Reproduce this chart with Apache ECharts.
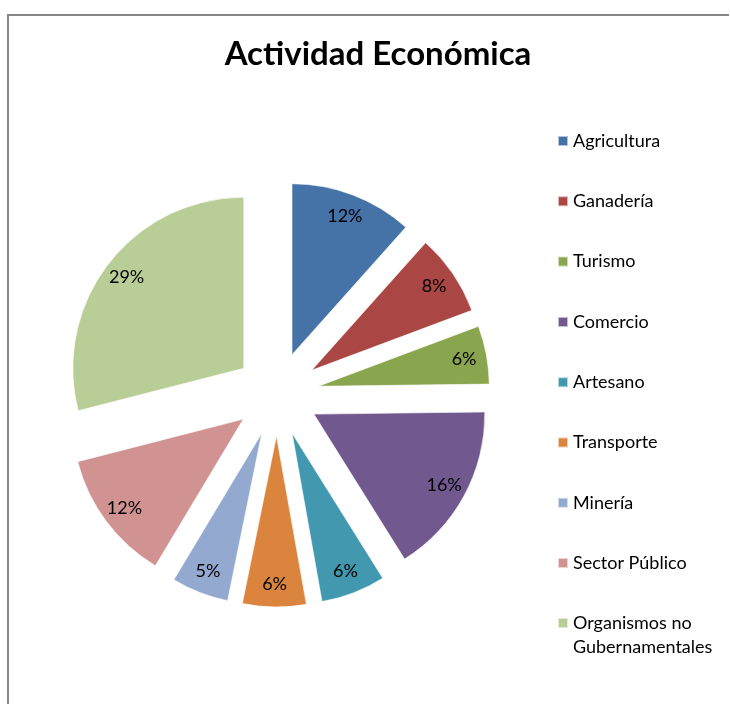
<!DOCTYPE html>
<html>
<head>
<meta charset="utf-8">
<script src="https://cdn.jsdelivr.net/npm/echarts@6/dist/echarts.min.js"></script>
<style>
  html, body { margin: 0; padding: 0; background: #fff; }
  #chart { width: 730px; height: 704px; }
</style>
</head>
<body>
<div id="chart"></div>
<script>
const categorias = ['Agricultura', 'Ganadería', 'Turismo', 'Comercio', 'Artesano',
  'Transporte', 'Minería', 'Sector Público', 'Organismos no Gubernamentales'];
const valores = [11.6, 7.7, 5.5, 16.3, 6.1, 6.0, 5.4, 12.4, 29.0];
const colores = ['#4572A7', '#AA4643', '#89A54E', '#71588F', '#4198AF',
  '#DB843D', '#93A9CF', '#D19392', '#B9CD96'];

const centro = [277, 394];
const radio = 171;
const separacion = 42;
const fuente = 'Lato, "Open Sans", sans-serif';

const chart = echarts.init(document.getElementById('chart'));

const datos = categorias.map((name, i) => ({
  name: name,
  value: valores[i],
  selected: true,
  itemStyle: { color: colores[i] }
}));

const option = {
  animation: false,
  title: {
    text: 'Actividad Económica',
    left: 373,
    textAlign: 'center',
    top: 33,
    textStyle: { fontFamily: fuente, fontSize: 33, fontWeight: 'bold', color: '#000' }
  },
  legend: [
    {
      orient: 'vertical',
      left: 557,
      top: 129,
      padding: 0,
      itemWidth: 10,
      itemHeight: 10,
      itemGap: 36.3,
      icon: 'rect',
      selectedMode: false,
      data: categorias.slice(0, 8),
      textStyle: { fontFamily: fuente, fontSize: 18, lineHeight: 24, color: '#000' }
    },
    {
      // la última entrada ocupa dos líneas; el icono va junto a la primera
      orient: 'vertical',
      left: 557,
      top: 587,
      padding: 0,
      itemWidth: 10,
      itemHeight: 10,
      icon: 'rect',
      selectedMode: false,
      data: categorias.slice(8),
      formatter: () => '\nOrganismos no\nGubernamentales',
      textStyle: { fontFamily: fuente, fontSize: 18, lineHeight: 24, color: '#000' }
    }
  ],
  graphic: [
    {
      type: 'polyline',
      shape: { points: [[8, 710], [8, 15], [729, 15]] },
      style: { stroke: '#878787', lineWidth: 2, fill: null }
    }
  ],
  series: [
    {
      name: 'Actividad',
      type: 'pie',
      center: centro,
      radius: [0, radio],
      startAngle: 90,
      clockwise: true,
      selectedMode: 'multiple',
      selectedOffset: separacion,
      avoidLabelOverlap: false,
      label: { show: false },
      labelLine: { show: false },
      emphasis: { disabled: true },
      select: { itemStyle: { borderColor: 'rgba(255,255,255,0.6)', borderWidth: 1 } },
      itemStyle: { borderColor: 'rgba(255,255,255,0.6)', borderWidth: 1 },
      data: datos
    },
    {
      // solo etiquetas, colocadas a 0.85 del radio
      name: 'Etiquetas',
      type: 'pie',
      center: centro,
      radius: [radio * 0.7, radio],
      startAngle: 90,
      clockwise: true,
      selectedMode: 'multiple',
      selectedOffset: separacion,
      avoidLabelOverlap: false,
      silent: true,
      emphasis: { disabled: true },
      itemStyle: { color: 'rgba(0,0,0,0)' },
      select: { itemStyle: { color: 'rgba(0,0,0,0)' } },
      label: {
        show: true,
        position: 'inside',
        formatter: p => Math.round(p.percent) + '%',
        fontFamily: fuente,
        fontSize: 18,
        color: '#000'
      },
      labelLine: { show: false },
      data: categorias.map((name, i) => ({ name: name, value: valores[i], selected: true }))
    }
  ]
};

chart.setOption(option);
</script>
</body>
</html>
